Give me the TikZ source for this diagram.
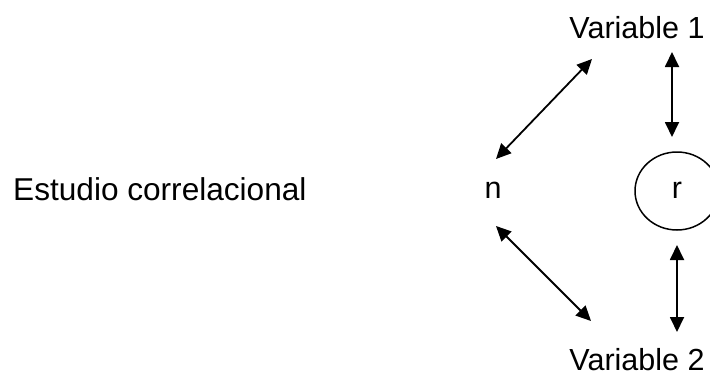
\documentclass[tikz,border=0pt]{standalone}
\usepackage{fontspec}
\setmainfont{Liberation Sans}
\usetikzlibrary{arrows.meta,shapes.geometric}
\tikzset{
  lbl/.style={inner sep=0pt, font=\fontsize{30.5}{36}\selectfont},
  biglbl/.style={inner sep=0pt, font=\fontsize{31.6}{38}\selectfont},
  dbl/.style={{Triangle[length=15pt,width=14pt]}-{Triangle[length=15pt,width=14pt]}, line width=1.8pt},
  ring/.style={draw, ellipse, line width=1.5pt, minimum width=84pt, minimum height=78pt, inner sep=0pt}
}
\begin{document}
\begin{tikzpicture}[x=1pt,y=-1pt]
\useasboundingbox (0,0) rectangle (710,372);
\node[biglbl, anchor=base west] (est) at (13,200) {Estudio correlacional};
\node[lbl, anchor=base] (n) at (493,198) {n};
\node[ring] (rc) at (677,191) {};
\node[lbl, anchor=base] (r) at (677,198) {r};
\node[lbl, anchor=base] (v1) at (637,38) {Variable 1};
\node[lbl, anchor=base] (v2) at (637,370) {Variable 2};
\coordinate (v1sw) at (592,59);
\coordinate (nne) at (496,159);
\coordinate (nse) at (496,226);
\coordinate (v2nw) at (591,321);
\coordinate (v1s) at (672,52);
\coordinate (rcn) at (672,137);
\coordinate (rcs) at (677,245);
\coordinate (v2n) at (677,332);
\draw[dbl] (v1sw) -- (nne);
\draw[dbl] (nse) -- (v2nw);
\draw[dbl] (v1s) -- (rcn);
\draw[dbl] (rcs) -- (v2n);
\end{tikzpicture}
\end{document}
